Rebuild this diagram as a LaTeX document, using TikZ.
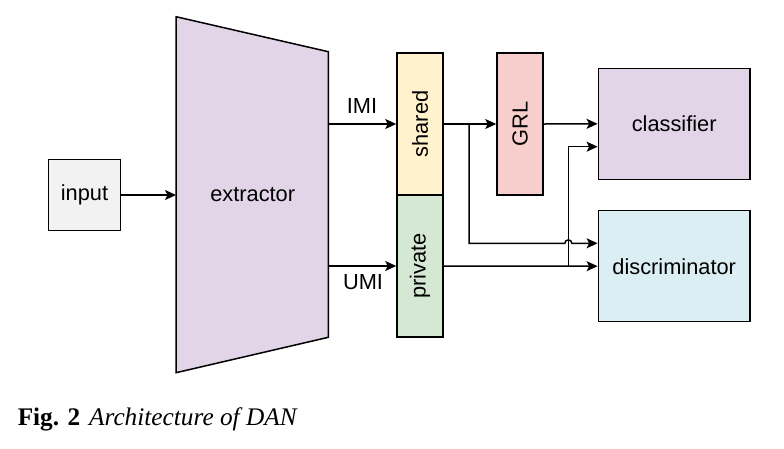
\documentclass[tikz,border=0pt]{standalone}
\usepackage{fontspec}
\setmainfont{Liberation Sans}
\newfontfamily\captionfont{Liberation Serif}
\usetikzlibrary{arrows.meta}
\definecolor{inputgray}{HTML}{F2F2F2}
\definecolor{extractorpurple}{HTML}{E1D5E7}
\definecolor{sharedyellow}{HTML}{FFF2CC}
\definecolor{privategreen}{HTML}{D5E8D4}
\definecolor{grlred}{HTML}{F8CECC}
\definecolor{discblue}{HTML}{DAEEF3}

\begin{document}
\begin{tikzpicture}[x = 1pt, y = -1pt, line width = 1.5pt,
                    label text/.style = {font = \fontsize{21.8}{24}\selectfont},
                    main node/.style = {draw, rectangle, inner sep = 0pt, label text},
                    feat node/.style = {main node, rotate = 90, minimum width = 142pt, minimum height = 46pt},
                    out node/.style = {main node, minimum width = 151.7pt, minimum height = 111pt},
                    arr/.style = {-{Stealth[length = 11pt, width = 10pt, inset = 2.5pt]}}]
                    \useasboundingbox (0, 0) rectangle (784, 448);

                    \node at (84.5, 195) [main node, fill = inputgray, minimum width = 72.4pt, minimum height = 71.4pt] (input) {input};
                    \draw [fill = extractorpurple] (176, 16.7) -- (328.3, 51.7) -- (328.3, 337.3) -- (176, 372.7) -- cycle;
                    \node at (252.7, 195) [label text] (extractor) {extractor};
                    \coordinate (extin) at (176, 195);
                    \coordinate (extimi) at (328.3, 124);
                    \coordinate (extumi) at (328.3, 266);

                    \node at (420, 124) [feat node, fill = sharedyellow] (shared) {shared};
                    \node at (420, 266) [feat node, fill = privategreen] (private) {private};
                    \node at (520, 124) [feat node, fill = grlred] (grl) {GRL};
                    \node at (674.2, 123.8) [out node, fill = extractorpurple] (classifier) {classifier};
                    \node at (674.2, 266.2) [out node, fill = discblue] (discriminator) {discriminator};

                    \node at (362, 105.5) [label text] (imi) {IMI};
                    \node at (363, 282.5) [label text] (umi) {UMI};

                    \coordinate (splitshared) at (469, 124);
                    \coordinate (splitprivate) at (568.3, 266);
                    \coordinate (hopa) at (564.8, 243.3);
                    \coordinate (hopb) at (571.8, 243.3);
                    \coordinate (hopca) at (564.8, 238.8);
                    \coordinate (hopcb) at (571.8, 238.8);

                    \draw [arr] (input) -- (extin);
                    \draw [arr] (extimi) -- (shared.north);
                    \draw [arr] (extumi) -- (private.north);
                    \draw [arr] (shared.south) -- (grl.north);
                    \draw [arr] (grl.south) -- (classifier.west);
                    \draw [arr] (splitshared) |- (hopa) .. controls (hopca) and (hopcb) .. (hopb) -- ([yshift = 22.9pt]discriminator.west);
                    \draw [arr] (private.south) -- (discriminator.west);
                    \draw [arr] (splitprivate) |- ([yshift = -22.9pt]classifier.west);

                    \node at (17, 425) [anchor = base west, inner sep = 0pt, font = \captionfont\fontsize{25.3}{28}\selectfont] (caption) {\textbf{Fig. 2}\hspace{0.35em}\textit{Architecture of DAN}};
                \end{tikzpicture}
\end{document}
